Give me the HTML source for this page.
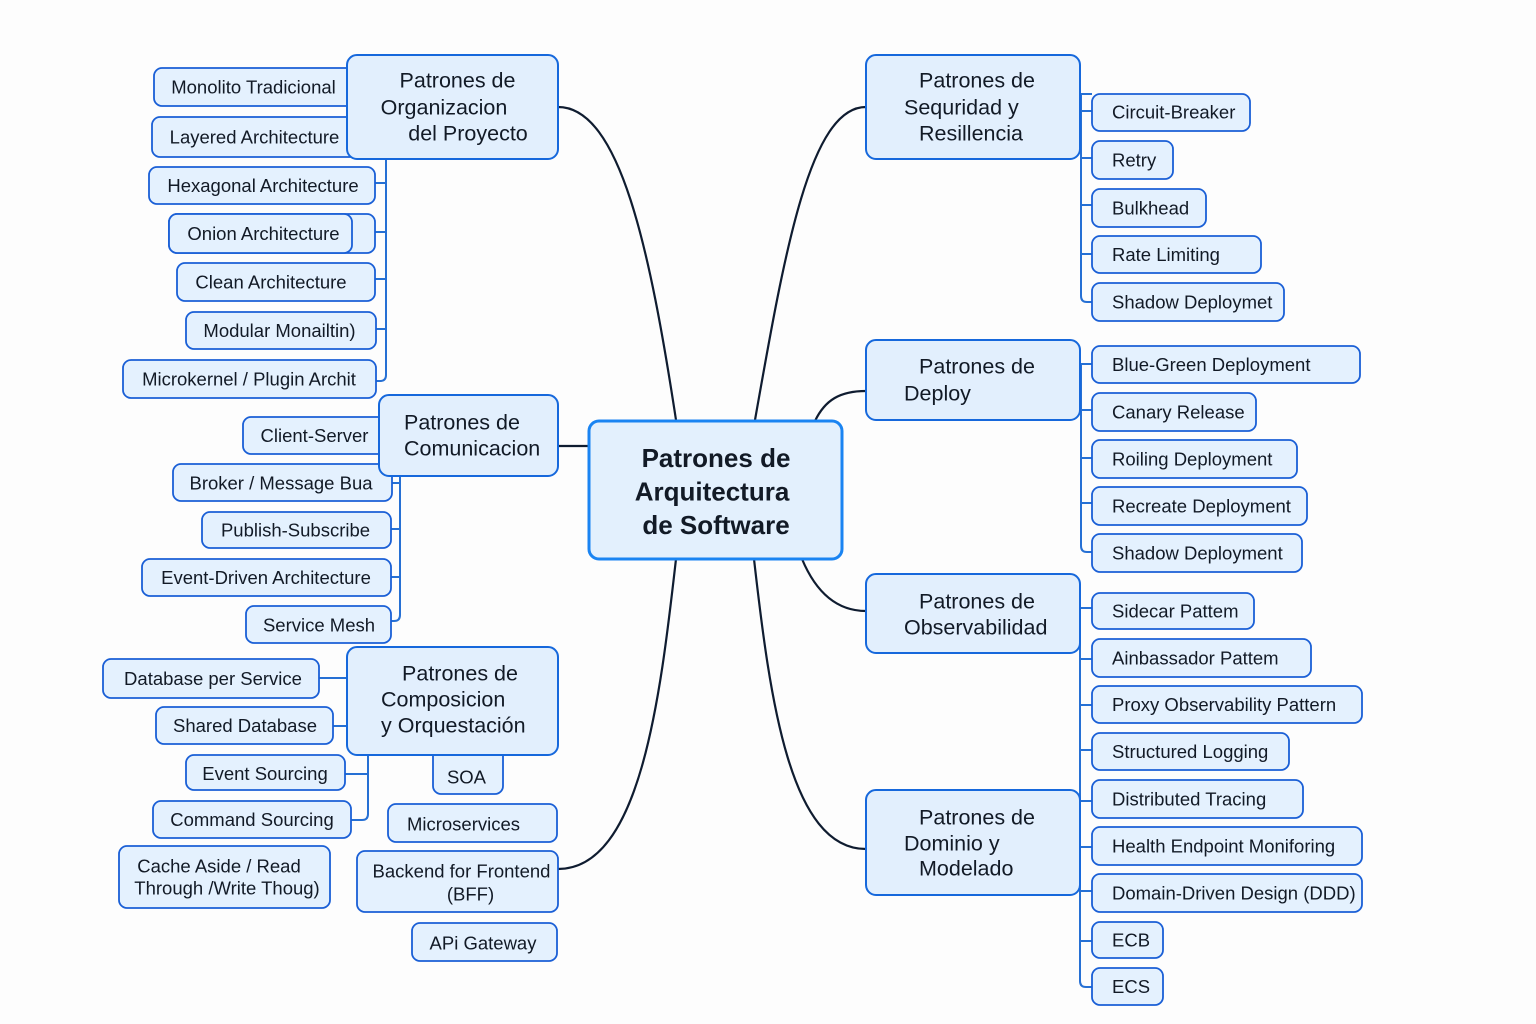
<!DOCTYPE html>
<html>
<head>
<meta charset="utf-8">
<style>
html,body{margin:0;padding:0;background:#fdfdfd;}
svg{display:block;}
text{font-family:"Liberation Sans",Arial,sans-serif;fill:#121a26;}
.c{fill:#e4f1fe;stroke:#1a5fd6;stroke-width:1.8;}
.k{fill:#e2effd;stroke:#1668dc;stroke-width:2;}
.t{font-size:18.5px;}
.h{font-size:21.5px;}
.bl{fill:none;stroke:#2670d4;stroke-width:2;}
.dk{fill:none;stroke:#0f1c30;stroke-width:2.2;}
</style>
</head>
<body>
<svg width="1536" height="1024" viewBox="0 0 1536 1024" xmlns="http://www.w3.org/2000/svg">
<rect width="1536" height="1024" fill="#fdfdfd"/>

<!-- main connectors -->
<path class="dk" d="M558,107 C620,107 650,250 676,420"/>
<path class="dk" d="M866,107 C810,107 785,250 755,420"/>
<path class="dk" d="M558,446 H590"/>
<path class="dk" d="M866,391 C840,391 825,400 815,421"/>
<path class="dk" d="M802,559 C815,590 835,611 866,611"/>
<path class="dk" d="M754,559 C770,700 790,849 866,849"/>
<path class="dk" d="M676,559 C660,700 640,869 558,869"/>

<!-- ===== Organizacion ===== -->
<path class="bl" d="M386,159 V375 Q386,381 380,381 H375"/>
<path class="bl" d="M375,183 H386 M375,232 H386 M375,279 H386 M376,329 H386"/>
<rect class="c" x="154" y="68" width="206" height="38" rx="8"/>
<text class="t" x="253.5" y="93.5" text-anchor="middle">Monolito Tradicional</text>
<rect class="c" x="152" y="117" width="206" height="40" rx="8"/>
<text class="t" x="254.5" y="143.5" text-anchor="middle">Layered Architecture</text>
<rect class="c" x="149" y="167" width="226" height="37" rx="8"/>
<text class="t" x="263" y="192" text-anchor="middle">Hexagonal Architecture</text>
<rect class="c" x="169" y="214" width="206" height="39" rx="8"/>
<rect class="c" x="169" y="214" width="183" height="39" rx="8"/>
<text class="t" x="263.5" y="240" text-anchor="middle">Onion Architecture</text>
<rect class="c" x="177" y="263" width="198" height="38" rx="8"/>
<text class="t" x="271" y="288.5" text-anchor="middle">Clean Architecture</text>
<rect class="c" x="186" y="312" width="190" height="37" rx="8"/>
<text class="t" x="279.5" y="337" text-anchor="middle">Modular Monailtin)</text>
<rect class="c" x="123" y="360" width="253" height="38" rx="8"/>
<text class="t" x="249" y="385.5" text-anchor="middle">Microkernel / Plugin Archit</text>
<rect class="k" x="347" y="55" width="211" height="104" rx="10"/>
<text class="h" x="457.5" y="87.5" text-anchor="middle">Patrones de</text>
<text class="h" x="444" y="114.5" text-anchor="middle">Organizacion</text>
<text class="h" x="468" y="140.5" text-anchor="middle">del Proyecto</text>

<!-- ===== Comunicacion ===== -->
<path class="bl" d="M400,476 V615 Q400,621 394,621 H391"/>
<path class="bl" d="M392,483 H400 M391,529 H400 M391,577 H400"/>
<rect class="c" x="243" y="417" width="147" height="37" rx="8"/>
<text class="t" x="314.5" y="442" text-anchor="middle">Client-Server</text>
<rect class="c" x="173" y="464" width="219" height="37" rx="8"/>
<text class="t" x="281" y="489.5" text-anchor="middle">Broker / Message Bua</text>
<rect class="c" x="202" y="512" width="189" height="36" rx="8"/>
<text class="t" x="295.5" y="536.5" text-anchor="middle">Publish-Subscribe</text>
<rect class="c" x="142" y="559" width="249" height="37" rx="8"/>
<text class="t" x="266" y="584" text-anchor="middle">Event-Driven Architecture</text>
<rect class="c" x="246" y="606" width="145" height="37" rx="8"/>
<text class="t" x="319" y="631.5" text-anchor="middle">Service Mesh</text>
<rect class="k" x="379" y="395" width="179" height="81" rx="10"/>
<text class="h" x="404" y="429.5">Patrones de</text>
<text class="h" x="404" y="455.5">Comunicacion</text>

<!-- ===== Composicion ===== -->
<path class="bl" d="M319,678 H347 M333,726 H347"/>
<path class="bl" d="M368,755 V814 Q368,820 362,820 H351 M345,774 H368"/>
<rect class="c" x="103" y="659" width="216" height="39" rx="8"/>
<text class="t" x="213" y="685" text-anchor="middle">Database per Service</text>
<rect class="c" x="156" y="707" width="177" height="37" rx="8"/>
<text class="t" x="245" y="732" text-anchor="middle">Shared Database</text>
<rect class="c" x="186" y="755" width="159" height="35" rx="8"/>
<text class="t" x="265" y="780" text-anchor="middle">Event Sourcing</text>
<rect class="c" x="153" y="801" width="198" height="37" rx="8"/>
<text class="t" x="252" y="826" text-anchor="middle">Command Sourcing</text>
<rect class="c" x="119" y="846" width="211" height="62" rx="8"/>
<text class="t" x="219" y="872.5" text-anchor="middle">Cache Aside / Read</text>
<text class="t" x="227" y="894.5" text-anchor="middle">Through /Write Thoug)</text>
<rect class="c" x="433" y="745" width="70" height="49" rx="8"/>
<text class="t" x="466.5" y="783.5" text-anchor="middle">SOA</text>
<rect class="c" x="388" y="804" width="169" height="38" rx="8"/>
<text class="t" x="463.5" y="830.5" text-anchor="middle">Microservices</text>
<rect class="c" x="357" y="851" width="201" height="61" rx="8"/>
<text class="t" x="461.5" y="877.5" text-anchor="middle">Backend for Frontend</text>
<text class="t" x="470.5" y="900.5" text-anchor="middle">(BFF)</text>
<rect class="c" x="412" y="923" width="145" height="38" rx="8"/>
<text class="t" x="483" y="949.5" text-anchor="middle">APi Gateway</text>
<rect class="k" x="347" y="647" width="211" height="108" rx="10"/>
<text class="h" x="460" y="680.5" text-anchor="middle">Patrones de</text>
<text class="h" x="381" y="706.5">Composicion</text>
<text class="h" x="381" y="732.5">y Orquestación</text>

<!-- ===== Sequridad ===== -->
<path class="bl" d="M1081,94 V296 Q1081,302 1087,302 H1092"/>
<path class="bl" d="M1081,94 H1092 M1081,111 H1092 M1081,158 H1092 M1081,205 H1092 M1081,254 H1092"/>
<rect class="c" x="1092" y="94" width="158" height="37" rx="8"/>
<text class="t" x="1112" y="118.5">Circuit-Breaker</text>
<rect class="c" x="1092" y="141" width="81" height="38" rx="8"/>
<text class="t" x="1112" y="166.5">Retry</text>
<rect class="c" x="1092" y="189" width="114" height="38" rx="8"/>
<text class="t" x="1112" y="214.5">Bulkhead</text>
<rect class="c" x="1092" y="236" width="169" height="37" rx="8"/>
<text class="t" x="1112" y="261">Rate Limiting</text>
<rect class="c" x="1092" y="283" width="192" height="38" rx="8"/>
<text class="t" x="1112" y="308.5">Shadow Deploymet</text>
<rect class="k" x="866" y="55" width="214" height="104" rx="10"/>
<text class="h" x="977" y="87.5" text-anchor="middle">Patrones de</text>
<text class="h" x="904" y="114.5">Sequridad y</text>
<text class="h" x="919" y="140.5">Resillencia</text>

<!-- ===== Deploy ===== -->
<path class="bl" d="M1081,364 V546 Q1081,552 1087,552 H1092"/>
<path class="bl" d="M1081,364 H1092 M1081,410 H1092 M1081,458 H1092 M1081,503 H1092"/>
<rect class="c" x="1092" y="346" width="268" height="37" rx="8"/>
<text class="t" x="1112" y="371">Blue-Green Deployment</text>
<rect class="c" x="1092" y="393" width="164" height="38" rx="8"/>
<text class="t" x="1112" y="418.5">Canary Release</text>
<rect class="c" x="1092" y="440" width="205" height="38" rx="8"/>
<text class="t" x="1112" y="465.5">Roiling Deployment</text>
<rect class="c" x="1092" y="487" width="215" height="38" rx="8"/>
<text class="t" x="1112" y="512.5">Recreate Deployment</text>
<rect class="c" x="1092" y="534" width="210" height="38" rx="8"/>
<text class="t" x="1112" y="559.5">Shadow Deployment</text>
<rect class="k" x="866" y="340" width="214" height="80" rx="10"/>
<text class="h" x="977" y="373.5" text-anchor="middle">Patrones de</text>
<text class="h" x="904" y="400.5">Deploy</text>

<!-- ===== Observabilidad / Dominio ===== -->
<path class="bl" d="M1080,608 V981 Q1080,987 1086,987 H1092"/>
<path class="bl" d="M1080,608 H1092 M1080,659 H1092 M1080,705 H1092 M1080,750 H1092 M1080,801 H1092 M1080,847 H1092 M1080,891 H1092 M1080,941 H1092"/>
<rect class="c" x="1092" y="593" width="162" height="36" rx="8"/>
<text class="t" x="1112" y="617.5">Sidecar Pattem</text>
<rect class="c" x="1092" y="639" width="219" height="38" rx="8"/>
<text class="t" x="1112" y="664.5">Ainbassador Pattem</text>
<rect class="c" x="1092" y="686" width="270" height="37" rx="8"/>
<text class="t" x="1112" y="711">Proxy Observability Pattern</text>
<rect class="c" x="1092" y="733" width="197" height="37" rx="8"/>
<text class="t" x="1112" y="758">Structured Logging</text>
<rect class="c" x="1092" y="780" width="211" height="38" rx="8"/>
<text class="t" x="1112" y="805.5">Distributed Tracing</text>
<rect class="c" x="1092" y="827" width="270" height="38" rx="8"/>
<text class="t" x="1112" y="852.5">Health Endpoint Moniforing</text>
<rect class="c" x="1092" y="874" width="270" height="38" rx="8"/>
<text class="t" x="1112" y="899.5">Domain-Driven Design (DDD)</text>
<rect class="c" x="1092" y="922" width="71" height="36" rx="8"/>
<text class="t" x="1112" y="946.5">ECB</text>
<rect class="c" x="1092" y="968" width="71" height="37" rx="8"/>
<text class="t" x="1112" y="993">ECS</text>
<rect class="k" x="866" y="574" width="214" height="79" rx="10"/>
<text class="h" x="977" y="608.5" text-anchor="middle">Patrones de</text>
<text class="h" x="904" y="634.5">Observabilidad</text>
<rect class="k" x="866" y="790" width="214" height="105" rx="10"/>
<text class="h" x="977" y="824.5" text-anchor="middle">Patrones de</text>
<text class="h" x="904" y="850.5">Dominio y</text>
<text class="h" x="919" y="875.5">Modelado</text>

<!-- ===== Center ===== -->
<rect x="589" y="421" width="253" height="138" rx="10" fill="#e3f0fd" stroke="#1a84f2" stroke-width="3"/>
<text x="716" y="467" text-anchor="middle" style="font-size:26px;font-weight:bold;">Patrones de</text>
<text x="712" y="500.5" text-anchor="middle" style="font-size:26px;font-weight:bold;">Arquitectura</text>
<text x="716" y="534" text-anchor="middle" style="font-size:26px;font-weight:bold;">de Software</text>
</svg>
</body>
</html>
